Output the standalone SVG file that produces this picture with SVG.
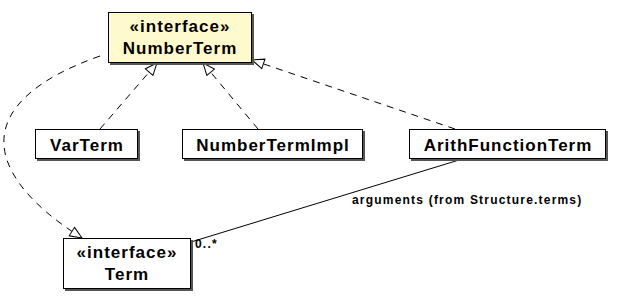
<svg xmlns="http://www.w3.org/2000/svg" width="622" height="301" viewBox="0 0 622 301">
  <style>
    .box { fill: #ffffff; stroke: #000000; stroke-width: 1; }
    .iface { fill: #fffacd; }
    .shadow { fill: #555555; }
    .name { font-family: "Liberation Sans", Arial, sans-serif; font-weight: bold; font-size: 17px; letter-spacing: 1px; text-anchor: middle; fill: #000000; }
    .label { font-family: "Liberation Sans", Arial, sans-serif; font-weight: bold; font-size: 12px; letter-spacing: 1.2px; fill: #000000; }
    .realize { fill: none; stroke: #000000; stroke-width: 1; stroke-dasharray: 7 6; marker-end: url(#hollow); }
    .assoc { fill: none; stroke: #000000; stroke-width: 1; }
  </style>
  <defs>
    <marker id="hollow" viewBox="0 0 14 12" refX="13" refY="6" markerWidth="14" markerHeight="12" markerUnits="userSpaceOnUse" orient="auto">
      <path d="M1,1 L13,6 L1,11 Z" fill="#ffffff" stroke="#000000" stroke-width="1" stroke-dasharray="none"/>
    </marker>
  </defs>
  <rect width="622" height="301" fill="#ffffff"/>

  <g id="connectors">
    <path class="realize" d="M100,129 L157,63"/>
    <path class="realize" d="M258,129 L203,63"/>
    <path class="realize" d="M455,129 L252,60"/>
    <path class="realize" d="M100,56 C-25,100 -25,170 82,238"/>
    <path class="assoc" d="M459,160 L191,242"/>
    <text class="label" x="195" y="248">0..*</text>
    <text class="label" x="352" y="204">arguments (from Structure.terms)</text>
  </g>

  <g id="NumberTerm">
    <rect class="shadow" x="110" y="14" width="144" height="51"/>
    <rect class="box iface" x="108.5" y="12.5" width="143" height="50"/>
    <text class="name" x="180" y="32">«interface»</text>
    <text class="name" x="180" y="54">NumberTerm</text>
  </g>

  <g id="VarTerm">
    <rect class="shadow" x="37" y="131" width="103" height="30"/>
    <rect class="box" x="35.5" y="129.5" width="102" height="29"/>
    <text class="name" x="87" y="151">VarTerm</text>
  </g>

  <g id="NumberTermImpl">
    <rect class="shadow" x="184" y="131" width="181" height="30"/>
    <rect class="box" x="182.5" y="129.5" width="180" height="29"/>
    <text class="name" x="273" y="151">NumberTermImpl</text>
  </g>

  <g id="ArithFunctionTerm">
    <rect class="shadow" x="411" y="131" width="197" height="30"/>
    <rect class="box" x="409.5" y="129.5" width="196" height="29"/>
    <text class="name" x="508" y="151">ArithFunctionTerm</text>
  </g>

  <g id="Term">
    <rect class="shadow" x="65" y="240" width="128" height="51"/>
    <rect class="box" x="63.5" y="238.5" width="127" height="50"/>
    <text class="name" x="127" y="258">«interface»</text>
    <text class="name" x="127" y="280">Term</text>
  </g>
</svg>
